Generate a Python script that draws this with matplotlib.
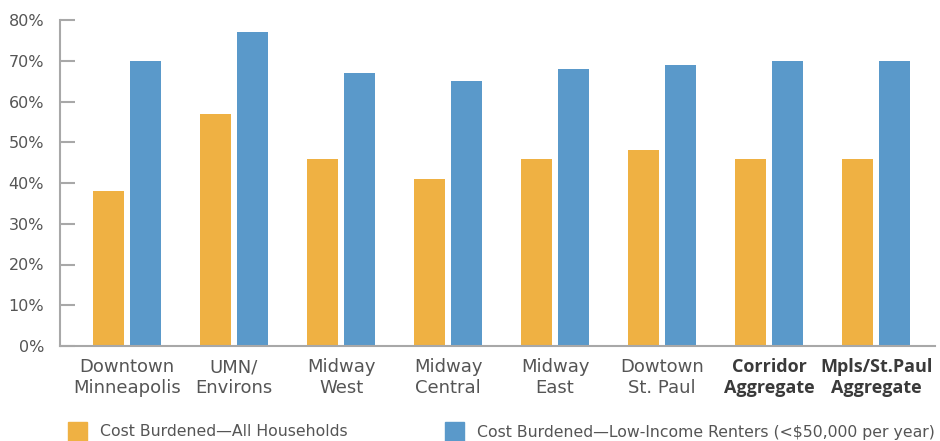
import matplotlib
matplotlib.use("Agg")
import matplotlib.pyplot as plt
from matplotlib.patches import Rectangle
import numpy as np

categories = ["Downtown\nMinneapolis", "UMN/\nEnvirons", "Midway\nWest", "Midway\nCentral",
              "Midway\nEast", "Dowtown\nSt. Paul", "Corridor\nAggregate", "Mpls/St.Paul\nAggregate"]
bold_flags = [False, False, False, False, False, False, True, True]
all_households = [38, 57, 46, 41, 46, 48, 46, 46]
low_income_renters = [70, 77, 67, 65, 68, 69, 70, 70]
series_labels = ["Cost Burdened\u2014All Households",
                 "Cost Burdened\u2014Low-Income Renters (<$50,000 per year)"]
yticks = [0, 10, 20, 30, 40, 50, 60, 70, 80]

ORANGE = "#EFB143"
BLUE = "#5A99CA"
AXIS = "#A8A8A8"
TEXT = "#555555"

plt.rcParams['font.family'] = ['DejaVu Sans']

W, H = 940, 441
fig = plt.figure(figsize=(W / 100, H / 100), dpi=100)
ax = fig.add_axes([60 / W, 95 / H, (935 - 60) / W, (346 - 20) / H])

x = np.arange(len(categories))
bw = 0.29
off = 0.173
ax.bar(x - off, all_households, width=bw, color=ORANGE, zorder=2)
ax.bar(x + off, low_income_renters, width=bw, color=BLUE, zorder=2)

ax.set_xlim(-0.626, len(categories) - 1 + 0.55)
ax.set_ylim(0, 80)
ax.set_yticks(yticks)
ax.set_yticklabels([f"{v}%" for v in yticks], fontsize=11.5, color=TEXT)
ax.tick_params(axis='y', direction='in', length=11, width=1.5, color=AXIS, pad=11.5)
ax.set_xticks(x)
ax.set_xticklabels(categories, fontsize=13, color=TEXT, linespacing=1.2)
for lbl, b in zip(ax.get_xticklabels(), bold_flags):
    if b:
        lbl.set_fontfamily(['Open Sans', 'DejaVu Sans'])
        lbl.set_fontweight('bold')
        lbl.set_fontsize(13)
        lbl.set_linespacing(1.16)
        lbl.set_color("#3a3a3a")
ax.tick_params(axis='x', length=0, pad=9)

for s in ['top', 'right']:
    ax.spines[s].set_visible(False)
ax.spines['left'].set_color(AXIS)
ax.spines['bottom'].set_color(AXIS)
ax.spines['left'].set_linewidth(1.5)
ax.spines['bottom'].set_linewidth(1.5)

# legend
for (xp, tx, col, lab) in [(68, 100, ORANGE, series_labels[0]), (445, 477, BLUE, series_labels[1])]:
    fig.add_artist(Rectangle((xp / W, 0), 19 / W, 19 / H,
                             transform=fig.transFigure, color=col))
    fig.text(tx / W, (441 - 432) / H, lab, fontsize=11.3, color=TEXT, va='center', ha='left')

fig.savefig("out.png", dpi=100)
